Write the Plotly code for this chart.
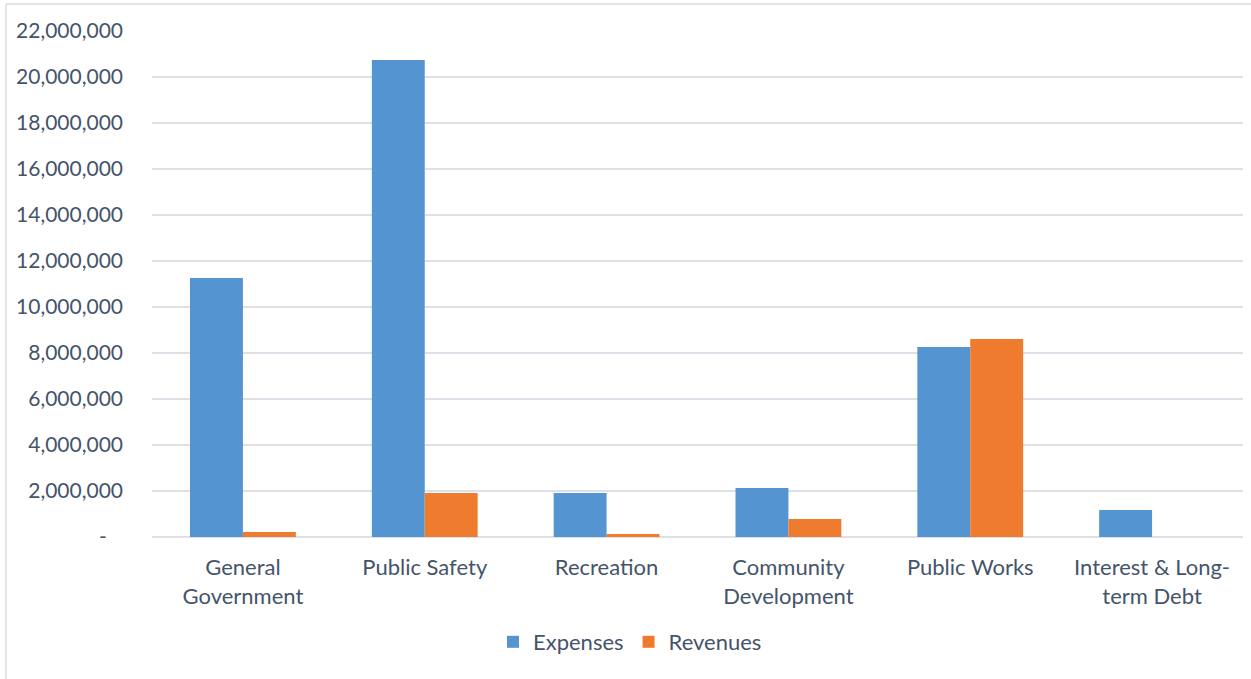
import plotly.graph_objects as go

# Department totals
categories = ["General Government", "Public Safety", "Recreation",
              "Community Development", "Public Works", "Interest & Long-term Debt"]
category_labels = ["General<br>Government", "Public Safety", "Recreation",
                   "Community<br>Development", "Public Works", "Interest & Long-<br>term Debt"]
expenses = [11_260_000, 20_740_000, 1_910_000, 2_130_000, 8_260_000, 1_170_000]
revenues = [220_000, 1_910_000, 130_000, 780_000, 8_610_000, 0]

tick_values = list(range(0, 22_000_001, 2_000_000))
tick_labels = ["-\u00a0\u00a0\u00a0"] + [f"{v:,}" for v in tick_values[1:]]

W, H = 1251, 679
L, R, T, B = 152, 8, 31, 142
text_color = "#44546A"
font_family = "Lato, 'Open Sans', sans-serif"

fig = go.Figure()
fig.add_trace(go.Bar(name="Expenses", x=categories, y=expenses,
                     marker=dict(color="#5494D0", line=dict(width=0))))
fig.add_trace(go.Bar(name="Revenues", x=categories, y=revenues,
                     marker=dict(color="#EF7B2E", line=dict(width=0))))

pw = W - L - R
ph = H - T - B

fig.update_layout(
    width=W, height=H,
    margin=dict(l=L, r=R, t=T, b=B, pad=0, autoexpand=False),
    paper_bgcolor="white", plot_bgcolor="white",
    barmode="group", bargap=0.418, bargroupgap=0,
    font=dict(family=font_family, size=21, color=text_color),
    showlegend=True,
    legend=dict(orientation="h", x=(630 - L) / pw, xanchor="center",
                y=-(642 - (T + ph)) / ph, yanchor="middle",
                font=dict(size=22, color=text_color), itemwidth=30,
                traceorder="normal", bgcolor="rgba(0,0,0,0)"),
    xaxis=dict(tickmode="array", tickvals=categories, ticktext=category_labels,
               showgrid=False, showline=False, ticks="", zeroline=False, automargin=False,
               tickfont=dict(size=22, color=text_color), ticklabelstandoff=15),
    yaxis=dict(range=[0, 22_000_000], tickmode="array", tickvals=tick_values,
               ticktext=tick_labels, showgrid=True, gridcolor="#DDE1E7", gridwidth=1.5,
               zeroline=True, zerolinecolor="#DDE1E7", zerolinewidth=1.5, automargin=False,
               showline=False, ticks="", ticklabelstandoff=28,
               tickfont=dict(size=21, color=text_color)),
    shapes=[
        # chart area frame (left and top edges)
        dict(type="line", xref="paper", yref="paper",
             x0=(6 - L) / pw, x1=(6 - L) / pw, y0=(ph + T - 4) / ph, y1=-(H - T - ph + 10) / ph,
             line=dict(color="#D9DEE6", width=1.5)),
        dict(type="line", xref="paper", yref="paper",
             x0=(6 - L) / pw, x1=(W + 10 - L) / pw, y0=(ph + T - 4) / ph, y1=(ph + T - 4) / ph,
             line=dict(color="#D9DEE6", width=1.5)),
    ],
)

fig.write_html("out.html")
